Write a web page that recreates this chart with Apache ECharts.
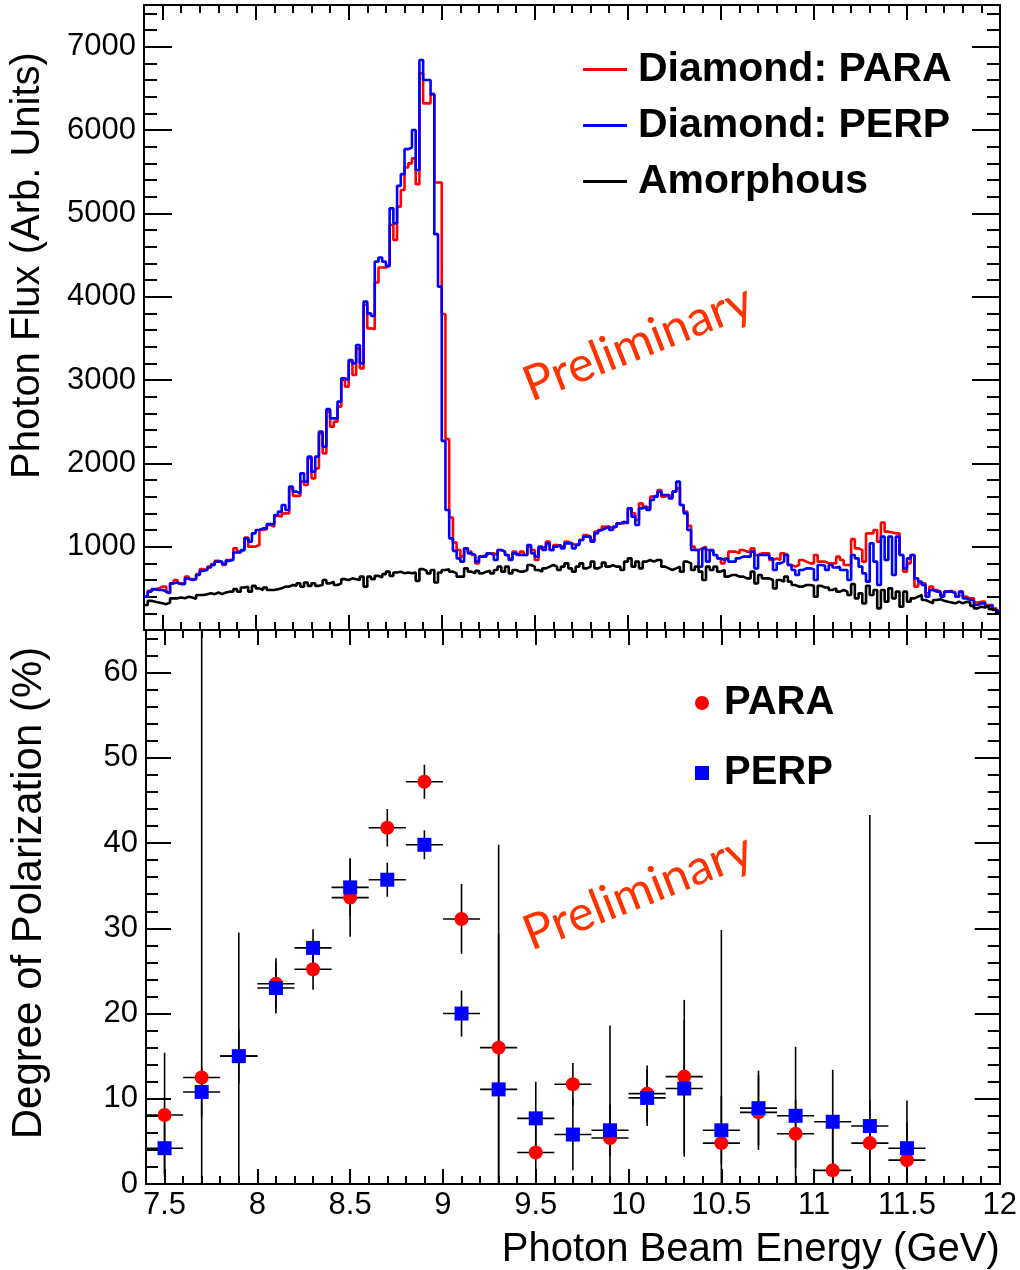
<!DOCTYPE html>
<html><head><meta charset="utf-8">
<script src="https://cdn.jsdelivr.net/npm/echarts@6/dist/echarts.min.js"></script>
<style>html,body{margin:0;padding:0;background:#fff}#c{width:1020px;height:1270px}</style>
</head><body><div id="c"></div>
<script>
// ---------- data ----------
const binStart = 7.40;   // GeV, low edge of first flux bin
const binWidth = 0.02;   // GeV
const fluxPara = [
 400, 470, 490, 500, 520, 520, 450, 560, 600, 560,
 560, 640, 610, 610, 670, 730, 720, 760, 790, 830,
 820, 780, 840, 850, 980, 940, 960, 1110, 1000, 1000,
 1020, 1200, 1210, 1260, 1240, 1370, 1360, 1400, 1400, 1700,
 1610, 1610, 1780, 1740, 2060, 1820, 1940, 2360, 2120, 2620,
 2440, 2500, 2680, 3000, 2920, 3220, 3060, 3380, 3140, 3900,
 3620, 3610, 4170, 4350, 4350, 4370, 4860, 4680, 5080, 5280,
 5550, 5600, 5660, 5350, 6680, 6320, 6320, 6430, 5370, 5370,
 3790, 2290, 1350, 1050, 960, 880, 980, 940, 900, 800,
 880, 900, 920, 920, 900, 960, 940, 900, 860, 940,
 900, 940, 900, 1000, 960, 840, 980, 1000, 1060, 960,
 1020, 1000, 1000, 1060, 1040, 1020, 1040, 1080, 1140, 1120,
 1080, 1180, 1200, 1240, 1240, 1220, 1240, 1280, 1280, 1300,
 1460, 1400, 1320, 1520, 1480, 1460, 1600, 1620, 1680, 1600,
 1620, 1600, 1660, 1700, 1500, 1420, 1250, 1000, 960, 980,
 1000, 960, 940, 900, 860, 800, 860, 940, 940, 920,
 960, 940, 940, 980, 900, 920, 920, 920, 840, 860,
 840, 920, 900, 780, 760, 780, 840, 820, 800, 800,
 900, 820, 820, 800, 800, 800, 880, 840, 780, 780,
 1090, 980, 960, 820, 1160, 1160, 1200, 1060, 1290, 1180,
 1170, 1160, 1160, 900, 700, 800, 900, 520, 560, 560,
 440, 520, 480, 460, 420, 460, 470, 450, 400, 460,
 400, 380, 380, 330, 340, 340, 300, 300, 260, 230
];
const fluxPerp = [
 400, 460, 490, 480, 480, 460, 440, 560, 570, 550,
 550, 620, 600, 610, 660, 710, 720, 750, 780, 820,
 820, 790, 830, 840, 930, 930, 960, 1100, 1060, 1160,
 1200, 1220, 1220, 1270, 1270, 1380, 1420, 1500, 1440, 1720,
 1660, 1640, 1880, 1780, 2080, 1900, 2080, 2380, 2200, 2650,
 2540, 2540, 2740, 3020, 3000, 3240, 3200, 3420, 3200, 3940,
 3800, 3770, 4420, 4470, 4420, 4370, 5060, 4880, 5330, 5470,
 5770, 5790, 6000, 5520, 6840, 6600, 6600, 6430, 4750, 4120,
 2270, 1440, 1100, 950, 860, 820, 980, 920, 900, 820,
 880, 880, 920, 900, 840, 960, 940, 900, 840, 920,
 900, 900, 900, 1020, 920, 880, 1000, 960, 1040, 960,
 1000, 1020, 980, 1040, 1040, 980, 1020, 1080, 1120, 1120,
 1060, 1160, 1200, 1220, 1240, 1200, 1240, 1280, 1300, 1280,
 1460, 1360, 1260, 1460, 1480, 1440, 1560, 1600, 1660, 1620,
 1620, 1580, 1660, 1780, 1500, 1400, 1200, 960, 960, 760,
 980, 820, 960, 900, 860, 840, 860, 820, 820, 860,
 880, 880, 880, 940, 740, 900, 900, 900, 860, 720,
 800, 820, 900, 780, 720, 660, 720, 740, 740, 730,
 600, 780, 770, 720, 780, 750, 760, 720, 720, 600,
 900, 860, 760, 680, 580, 1040, 820, 540, 1120, 840,
 1120, 660, 1120, 900, 740, 860, 900, 620, 580, 540,
 400, 480, 460, 460, 400, 460, 460, 440, 400, 460,
 380, 360, 360, 300, 320, 320, 280, 300, 240, 220
];
const fluxAmorph = [
 300, 350, 340, 330, 320, 310, 330, 380, 380, 390,
 380, 400, 390, 375, 420, 420, 430, 440, 430, 450,
 430, 450, 460, 460, 490, 460, 510, 520, 460, 530,
 500, 480, 510, 480, 480, 490, 500, 520, 520, 540,
 530, 560, 520, 570, 530, 560, 530, 540, 600, 560,
 580, 540, 560, 610, 600, 620, 610, 600, 640, 520,
 640, 610, 650, 630, 670, 700, 650, 690, 700, 680,
 690, 680, 690, 590, 730, 710, 680, 720, 570, 690,
 720, 730, 700, 680, 640, 640, 740, 700, 680, 710,
 680, 700, 710, 680, 720, 760, 700, 760, 680, 720,
 700, 700, 720, 780, 760, 720, 700, 740, 760, 780,
 760, 720, 760, 800, 740, 700, 760, 800, 740, 760,
 820, 740, 760, 808, 760, 776, 760, 760, 720, 820,
 860, 760, 820, 740, 820, 840, 820, 840, 840, 760,
 740, 720, 740, 760, 700, 820, 800, 720, 760, 700,
 600, 760, 720, 760, 700, 720, 640, 660, 660, 640,
 640, 620, 620, 700, 560, 660, 620, 620, 600, 500,
 600, 580, 640, 580, 540, 520, 520, 540, 540, 530,
 400, 530, 510, 510, 480, 500, 460, 480, 460, 420,
 550, 380, 440, 320, 530, 420, 480, 260, 480, 340,
 500, 380, 460, 280, 460, 340, 380, 400, 420, 360,
 340, 320, 360, 370, 350, 340, 330, 320, 340, 320,
 340, 330, 290, 260, 280, 270, 290, 250, 240, 200
];

const polEnergy  = [7.5, 7.7, 7.9, 8.1, 8.3, 8.5, 8.7, 8.9, 9.1, 9.3, 9.5, 9.7, 9.9, 10.1, 10.3, 10.5, 10.7, 10.9, 11.1, 11.3, 11.5];
const polEnergyErr = 0.1;
const polPara    = [8.1, 12.5, 15.0, 23.5, 25.2, 33.6, 41.8, 47.2, 31.1, 16.0, 3.7, 11.7, 5.4, 10.6, 12.6, 4.8, 8.4, 5.9, 1.6, 4.8, 2.8];
const polParaErr = [7.3, 55.0, 3.2, 3.0, 2.4, 4.6, 2.2, 2.0, 4.1, 23.8, 3.8, 2.5, 13.2, 3.3, 9.0, 25.0, 4.4, 4.0, 5.0, 5.0, 7.0];
const polPerp    = [4.2, 10.8, 15.0, 23.0, 27.7, 34.8, 35.7, 39.8, 20.0, 11.1, 7.7, 5.8, 6.3, 10.1, 11.2, 6.3, 8.9, 8.0, 7.3, 6.8, 4.2];
const polPerpErr = [3.0, 3.0, 14.5, 3.0, 2.2, 3.4, 2.0, 1.7, 2.7, 18.2, 4.3, 4.2, 3.0, 3.3, 8.0, 4.0, 4.4, 8.1, 6.1, 36.5, 3.0];

const xMajorTicks = [7.5, 8, 8.5, 9, 9.5, 10, 10.5, 11, 11.5, 12];
const fluxTicks   = [0, 1000, 2000, 3000, 4000, 5000, 6000, 7000];
const fluxLabels  = [1000, 2000, 3000, 4000, 5000, 6000, 7000];
const polTicks    = [0, 10, 20, 30, 40, 50, 60];

// ---------- helpers ----------
const FONT = '"Liberation Sans", Arial, Helvetica, sans-serif';
const xMinorTicks = []; for (let k = 74; k <= 120; k++) if (k % 5 !== 0) xMinorTicks.push(k / 10);
const fluxMinor = []; for (let v = 200; v < 7500; v += 200) if (v % 1000 !== 0) fluxMinor.push(v);
const polMinor = []; for (let v = 2; v < 65; v += 2) if (v % 10 !== 0) polMinor.push(v);

const BLACK = '#000';
function xAxesFor(grid, withLabels, name) {
  const base = { type: 'value', gridIndex: grid, min: 7.4, max: 12, splitLine: { show: false } };
  const tick = (len, vals) => ({ show: true, inside: true, length: len, customValues: vals, lineStyle: { color: BLACK, width: 2 } });
  const main = Object.assign({}, base, {
    position: 'bottom',
    axisLine: { show: true, onZero: false, lineStyle: { color: BLACK, width: 2 } },
    axisTick: tick(15, xMajorTicks),
    axisLabel: { show: withLabels, customValues: xMajorTicks, margin: 6, color: BLACK, fontFamily: FONT, fontSize: 31, formatter: v => String(v) }
  });
  if (name) {
    main.name = name; main.nameLocation = 'end'; main.nameGap = 0;
    main.nameTextStyle = { fontFamily: FONT, fontSize: 40, color: BLACK, align: 'right', verticalAlign: 'top', padding: [46, 0, 0, 0] };
  }
  return [
    main,
    Object.assign({}, base, { position: 'bottom', axisLine: { show: false, onZero: false }, axisTick: tick(8, xMinorTicks), axisLabel: { show: false } }),
    Object.assign({}, base, { position: 'top', axisLine: { show: true, onZero: false, lineStyle: { color: BLACK, width: 2 } }, axisTick: tick(15, xMajorTicks), axisLabel: { show: false } }),
    Object.assign({}, base, { position: 'top', axisLine: { show: false, onZero: false }, axisTick: tick(8, xMinorTicks), axisLabel: { show: false } })
  ];
}
function yAxesFor(grid, min, max, major, labels, minor, majLen, minLen, name, nameSize, shift) {
  const base = { type: 'value', gridIndex: grid, min: min, max: max, splitLine: { show: false } };
  const tick = (len, vals) => ({ show: true, inside: true, length: len, customValues: vals, lineStyle: { color: BLACK, width: 2 } });
  return [
    Object.assign({}, base, {
      position: 'left',
      axisLine: { show: true, onZero: false, lineStyle: { color: BLACK, width: 2 } },
      axisTick: tick(majLen, major),
      axisLabel: { show: true, customValues: labels, margin: 8, color: BLACK, fontFamily: FONT, fontSize: 31, formatter: v => String(v) },
      name: name, nameLocation: 'middle', nameRotate: 90, nameGap: 96,
      nameTextStyle: { fontFamily: FONT, fontSize: nameSize, color: BLACK, padding: [0, 0, 0, shift] }
    }),
    Object.assign({}, base, { position: 'left', axisLine: { show: false, onZero: false }, axisTick: tick(minLen, minor), axisLabel: { show: false } }),
    Object.assign({}, base, { position: 'right', axisLine: { show: true, onZero: false, lineStyle: { color: BLACK, width: 2 } }, axisTick: tick(majLen, major), axisLabel: { show: false } }),
    Object.assign({}, base, { position: 'right', axisLine: { show: false, onZero: false }, axisTick: tick(minLen, minor), axisLabel: { show: false } })
  ];
}
function histData(vals) {
  const d = vals.map((v, i) => [+(binStart + i * binWidth).toFixed(3), v]);
  d.push([+(binStart + vals.length * binWidth).toFixed(3), vals[vals.length - 1]]);
  return d;
}
function histSeries(name, vals, color) {
  return { name: name, type: 'line', xAxisIndex: 0, yAxisIndex: 0, step: 'end', symbol: 'none', showSymbol: false,
    data: histData(vals), color: color, lineStyle: { color: color, width: 2.6 }, animation: false, silent: true };
}
function errSeries(vals, errs) {
  return { type: 'custom', xAxisIndex: 4, yAxisIndex: 4, clip: true, silent: true, animation: false,
    encode: { x: 0, y: 1 },
    data: polEnergy.map((e, i) => [e, vals[i], polEnergyErr, errs[i]]),
    renderItem: function (params, api) {
      const x = api.value(0), y = api.value(1), ex = api.value(2), ey = api.value(3);
      const l = api.coord([x - ex, y]), r = api.coord([x + ex, y]);
      const t = api.coord([x, y + ey]), b = api.coord([x, y - ey]);
      const st = { stroke: BLACK, lineWidth: 1.6 };
      return { type: 'group', children: [
        { type: 'line', shape: { x1: l[0], y1: l[1], x2: r[0], y2: r[1] }, style: st },
        { type: 'line', shape: { x1: t[0], y1: t[1], x2: b[0], y2: b[1] }, style: st }
      ] };
    }
  };
}
function pointSeries(name, vals, symbol, color) {
  return { name: name, type: 'scatter', xAxisIndex: 4, yAxisIndex: 4, symbol: symbol, symbolSize: 14,
    itemStyle: { color: color, opacity: 1 }, color: color, data: polEnergy.map((e, i) => [e, vals[i]]), animation: false, silent: true };
}

const chart = echarts.init(document.getElementById('c'), null, { renderer: 'canvas' });
const PRELIM_STYLE = { text: 'Preliminary', fontFamily: 'Lato, "Open Sans", sans-serif', fontSize: 49, fill: '#ff3300', align: 'center', verticalAlign: 'middle' };
const option = {
  backgroundColor: '#fff',
  animation: false,
  grid: [
    { left: 144, top: 5, width: 856, height: 625 },
    { left: 144, top: 630, width: 856, height: 556 }
  ],
  xAxis: [].concat(xAxesFor(0, false, null), xAxesFor(1, true, 'Photon Beam Energy (GeV)')),
  yAxis: [].concat(
    yAxesFor(0, 0, 7500, fluxTicks, fluxLabels, fluxMinor, 28, 13, 'Photon Flux (Arb. Units)', 40, 104),
    yAxesFor(1, 0, 65, polTicks, polTicks, polMinor, 25, 12, 'Degree of Polarization (%)', 42, 28)
  ),
  legend: [
    { data: ['Diamond: PARA', 'Diamond: PERP', 'Amorphous'], orient: 'vertical', left: 583, top: 49, padding: 0,
      icon: 'rect', itemWidth: 44, itemHeight: 3, itemGap: 15, selectedMode: false,
      textStyle: { fontFamily: FONT, fontWeight: 'bold', fontSize: 41, lineHeight: 41, color: BLACK, padding: [0, 0, 0, 6] } },
    { data: [{ name: 'PARA', icon: 'circle' }, { name: 'PERP', icon: 'rect' }], orient: 'vertical', left: 695, top: 683, padding: 0,
      itemWidth: 14, itemHeight: 14, itemGap: 30, selectedMode: false,
      textStyle: { fontFamily: FONT, fontWeight: 'bold', fontSize: 40, lineHeight: 40, color: BLACK, padding: [0, 0, 0, 10] } }
  ],
  graphic: [
    { type: 'text', x: 638, y: 343, rotation: 0.375, z: 100, silent: true, style: Object.assign({}, PRELIM_STYLE) },
    { type: 'text', x: 638, y: 892, rotation: 0.375, z: 100, silent: true, style: Object.assign({}, PRELIM_STYLE) }
  ],
  series: [
    histSeries('Diamond: PARA', fluxPara, '#ff0000'),
    histSeries('Diamond: PERP', fluxPerp, '#0000ff'),
    histSeries('Amorphous', fluxAmorph, '#000000'),
    errSeries(polPara, polParaErr),
    pointSeries('PARA', polPara, 'circle', '#ff0000'),
    errSeries(polPerp, polPerpErr),
    pointSeries('PERP', polPerp, 'rect', '#0000ff')
  ]
};
chart.setOption(option);
</script>
</body></html>
